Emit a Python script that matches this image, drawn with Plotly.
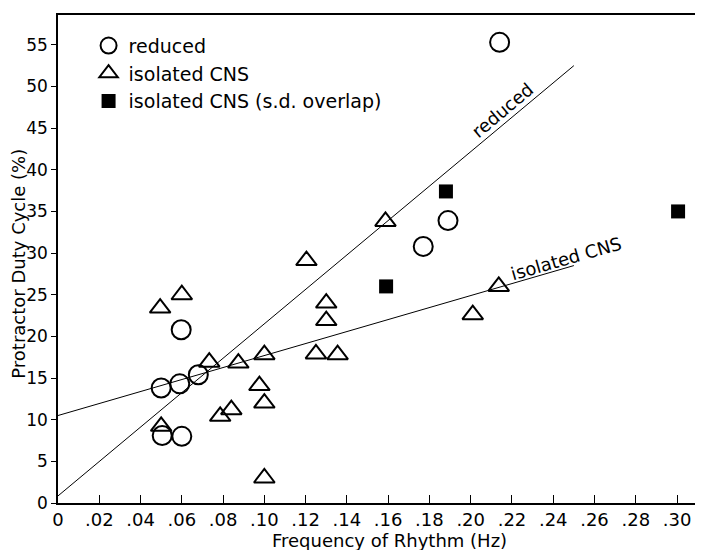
import plotly.graph_objects as go

# Data
reduced_x = [0.050, 0.059, 0.068, 0.0597, 0.0505, 0.060, 0.177, 0.189, 0.214]
reduced_y = [13.8, 14.3, 15.4, 20.8, 8.1, 8.0, 30.8, 33.9, 55.3]

iso_x = [0.0495, 0.060, 0.0733, 0.0874, 0.0976, 0.100, 0.084, 0.0786, 0.050, 0.100,
         0.100, 0.1204, 0.125, 0.130, 0.130, 0.1355, 0.1587, 0.201, 0.2136]
iso_y = [23.4, 25.0, 16.9, 16.8, 14.1, 12.0, 11.2, 10.4, 9.2, 3.0,
         17.8, 29.1, 17.9, 24.0, 21.9, 17.8, 33.8, 22.6, 26.0]

sd_x = [0.159, 0.188, 0.3005]
sd_y = [26.0, 37.4, 35.0]

fit_x = [0.0, 0.25]
reduced_fit = [0.85, 52.5]
iso_fit = [10.5, 28.5]

xticks = [0, 0.02, 0.04, 0.06, 0.08, 0.10, 0.12, 0.14, 0.16, 0.18, 0.20, 0.22, 0.24, 0.26, 0.28, 0.30]
xticklabels = ["0", ".02", ".04", ".06", ".08", ".10", ".12", ".14", ".16", ".18", ".20", ".22", ".24", ".26", ".28", ".30"]
yticks = [0, 5, 10, 15, 20, 25, 30, 35, 40, 45, 50, 55]

FONT = "DejaVu Sans, Verdana, sans-serif"

fig = go.Figure()
fig.add_trace(go.Scatter(x=fit_x, y=reduced_fit, mode="lines", line=dict(color="black", width=1),
                         showlegend=False, hoverinfo="skip"))
fig.add_trace(go.Scatter(x=fit_x, y=iso_fit, mode="lines", line=dict(color="black", width=1),
                         showlegend=False, hoverinfo="skip"))
fig.add_trace(go.Scatter(x=reduced_x, y=reduced_y, mode="markers", name="reduced",
                         marker=dict(symbol="circle-open", size=19, color="black", line=dict(width=2))))
fig.add_trace(go.Scatter(x=iso_x, y=iso_y, mode="markers", name="isolated CNS",
                         marker=dict(symbol="triangle-up-open", size=18, color="black", line=dict(width=2))))
fig.add_trace(go.Scatter(x=sd_x, y=sd_y, mode="markers", name="isolated CNS (s.d. overlap)",
                         marker=dict(symbol="square", size=14, color="black")))

# line labels
fig.add_annotation(x=0.2152, y=47.1, text="reduced", showarrow=False, textangle=-40,
                   font=dict(family=FONT, size=18, color="black"))
fig.add_annotation(x=0.2462, y=29.4, text="isolated CNS", showarrow=False, textangle=-16,
                   font=dict(family=FONT, size=18, color="black"))

# axis titles
fig.add_annotation(xref="paper", yref="paper", x=0.52, y=-0.077, xanchor="center", yanchor="middle",
                   text="Frequency of Rhythm (Hz)", showarrow=False,
                   font=dict(family=FONT, size=18, color="black"))
fig.add_annotation(xref="paper", yref="paper", x=-0.0615, y=0.49, xanchor="center", yanchor="middle",
                   text="Protractor Duty Cycle (%)", showarrow=False, textangle=-90,
                   font=dict(family=FONT, size=18, color="black"))

fig.update_layout(
    width=703, height=550,
    margin=dict(l=50, r=16, t=7, b=55),
    paper_bgcolor="white", plot_bgcolor="white",
    font=dict(family=FONT, size=18, color="black"),
    legend=dict(x=0.048, y=0.976, xanchor="left", yanchor="top", bgcolor="rgba(0,0,0,0)",
                font=dict(size=19), itemsizing="trace", tracegroupgap=0),
    xaxis=dict(range=[0, 0.3087], tickvals=xticks, ticktext=xticklabels, ticks="inside", ticklen=8,
               tickcolor="black", showline=True, linecolor="black", linewidth=1.5, mirror=True,
               showgrid=False, zeroline=False, automargin=False, tickfont=dict(size=18)),
    yaxis=dict(range=[0, 58.58], tickvals=yticks, ticks="outside", ticklen=5, tickcolor="black",
               showline=True, linecolor="black", linewidth=1.5, mirror=True, showgrid=False,
               zeroline=False, automargin=False, tickfont=dict(size=17)),
)

fig.write_html("out.html")
